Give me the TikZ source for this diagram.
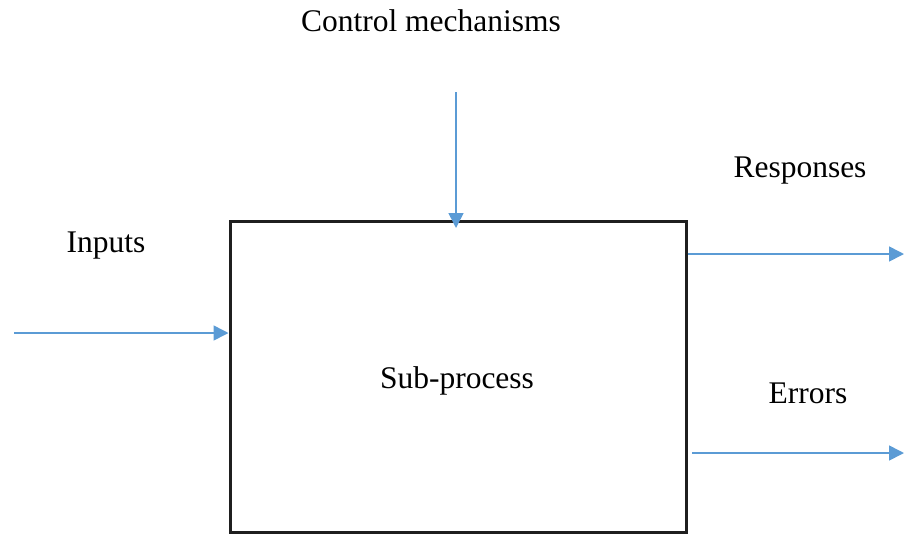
\documentclass[tikz,border=0pt]{standalone}
\usepackage{fontspec}
\setmainfont{Liberation Serif}
\usetikzlibrary{arrows.meta}
\definecolor{arrowblue}{HTML}{5B9BD5}
\begin{document}
\begin{tikzpicture}[x=1pt,y=-1pt,
  lbl/.style={font=\fontsize{31.5}{36}\selectfont, inner sep=0pt, anchor=base},
  flow/.style={draw=arrowblue, line width=1.6pt, -{Triangle[length=15pt,width=15pt]}},
  boxstyle/.style={draw=black!88, line width=3pt, minimum width=456pt, minimum height=311pt, inner sep=0pt}]
\useasboundingbox (0,0) rectangle (908,539);
\node[boxstyle] (box) at (458,376.5) {};
\node[lbl] (sub) at (457,388) {Sub-process};
\node[lbl] (ctl) at (431,31) {Control mechanisms};
\node[lbl] (resp) at (800,177) {Responses};
\node[lbl] (inp) at (106,252) {Inputs};
\node[lbl] (err) at (808,403) {Errors};
\coordinate (ctlstart) at (456,92);
\coordinate (ctlend) at (456,228);
\coordinate (inpstart) at (14,333);
\coordinate (respend) at (904,254);
\coordinate (errstart) at (692,453);
\coordinate (errend) at (904,453);
\draw[flow] (ctlstart) -- (ctlend);
\draw[flow] (inpstart) -- (inpstart -| box.west);
\draw[flow] (box.east |- respend) -- (respend);
\draw[flow] (errstart) -- (errend);
\end{tikzpicture}
\end{document}
